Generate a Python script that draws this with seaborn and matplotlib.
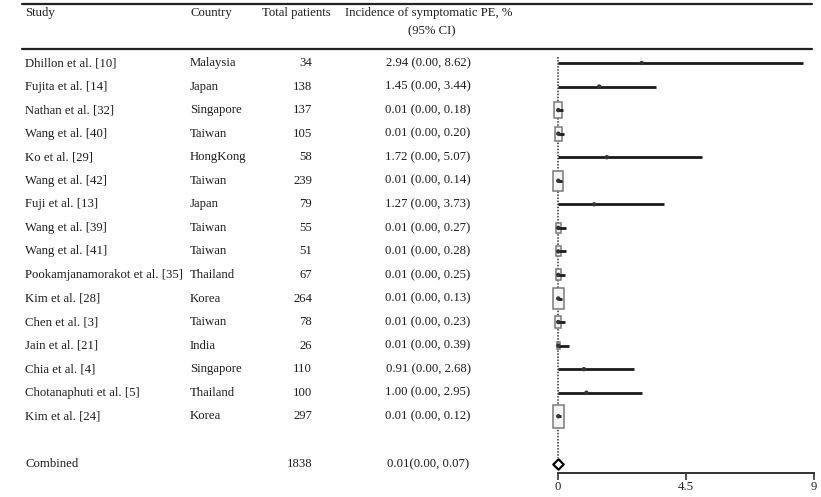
import numpy as np
import pandas as pd
import matplotlib
matplotlib.use("Agg")
import matplotlib.pyplot as plt
from matplotlib.patches import Rectangle
from matplotlib.lines import Line2D
from matplotlib.transforms import blended_transform_factory
import seaborn as sns

# Study-level data
studies = ["Dhillon et al. [10]", "Fujita et al. [14]", "Nathan et al. [32]", "Wang et al. [40]",
           "Ko et al. [29]", "Wang et al. [42]", "Fuji et al. [13]", "Wang et al. [39]",
           "Wang et al. [41]", "Pookamjanamorakot et al. [35]", "Kim et al. [28]", "Chen et al. [3]",
           "Jain et al. [21]", "Chia et al. [4]", "Chotanaphuti et al. [5]", "Kim et al. [24]"]
countries = ["Malaysia", "Japan", "Singapore", "Taiwan", "HongKong", "Taiwan", "Japan", "Taiwan",
             "Taiwan", "Thailand", "Korea", "Taiwan", "India", "Singapore", "Thailand", "Korea"]
patients = [34, 138, 137, 105, 58, 239, 79, 55, 51, 67, 264, 78, 26, 110, 100, 297]
incidence = [2.94, 1.45, 0.01, 0.01, 1.72, 0.01, 1.27, 0.01, 0.01, 0.01, 0.01, 0.01, 0.01, 0.91, 1.00, 0.01]
ci_low = [0.00] * 16
ci_high = [8.62, 3.44, 0.18, 0.20, 5.07, 0.14, 3.73, 0.27, 0.28, 0.25, 0.13, 0.23, 0.39, 2.68, 2.95, 0.12]

combined_label = "Combined"
combined_patients = 1838
combined_est, combined_low, combined_high = 0.01, 0.00, 0.07

headers = ["Study", "Country", "Total patients", "Incidence of symptomatic PE, %", "(95% CI)"]
x_ticks = [0, 4.5, 9]
x_ticklabels = ["0", "4.5", "9"]

df = pd.DataFrame({"study": studies, "country": countries, "n": patients,
                   "est": incidence, "lo": ci_low, "hi": ci_high})
df["row"] = np.arange(len(df))
combined_row = len(df) + 1.03

sns.set_theme(style="white")
serif = ["Liberation Serif", "DejaVu Serif"]
plt.rcParams["font.family"] = serif

W, H = 821, 497
fig = plt.figure(figsize=(W / 100, H / 100), dpi=100)


def fx(px):
    return px / W


def fy(py):
    return 1 - py / H


# Forest-plot axes: x = 0 at 558 px, x = 9 at 814 px; rows spaced 23.55 px from 63 px
px_per_x = (814 - 558) / 9
row0, row_step = 63, 23.55
top_px, bot_px = 55, 473
ax = fig.add_axes([fx(558), fy(bot_px), (814 - 558) / W, (bot_px - top_px) / H])
ax.set_xlim(0, 9)
ax.set_ylim((bot_px - row0) / row_step, (top_px - row0) / row_step)

# Reference line at zero
ax.plot([0, 0], [-0.25, combined_row - 0.25], ls=(0, (1, 1.0)), color="#333333", lw=1.1,
        zorder=1, clip_on=False)

# Boxes sized by inverse-variance weight
ci_width = df["hi"] - df["lo"]
weight = 1 / ci_width ** 2
scale = np.sqrt(weight / weight.max())
for i, r in df.iterrows():
    s = scale[i]
    bw = 11.5 * s / px_per_x
    bh = 23 * s / row_step
    if bw * px_per_x >= 2:
        ax.add_patch(Rectangle((r["est"] - bw / 2, r["row"] - bh / 2), bw, bh,
                               facecolor="#f4f4f4", edgecolor="#7a7a7a", lw=1.1, zorder=2,
                               clip_on=False))

# Confidence intervals
ax.hlines(df["row"], df["lo"], df["hi"], color="#1a1a1a", lw=2.0, zorder=3, clip_on=False)
sns.scatterplot(data=df, x="est", y="row", ax=ax, s=10, color="#333333", marker="o",
                edgecolor="none", zorder=4, legend=False, clip_on=False)

# Pooled estimate
ax.hlines([combined_row], [combined_low], [combined_high], color="#1a1a1a", lw=1.2, zorder=3,
          clip_on=False)
sns.scatterplot(x=[combined_est], y=[combined_row], ax=ax, marker="D", s=28,
                facecolor="white", edgecolor="black", linewidth=1.6, zorder=5, legend=False,
                clip_on=False)

for side in ["top", "right", "left"]:
    ax.spines[side].set_visible(False)
ax.spines["bottom"].set_color("#333333")
ax.spines["bottom"].set_linewidth(1.4)
ax.set_yticks([])
ax.set_xticks(x_ticks)
ax.set_xticklabels(x_ticklabels, fontsize=9.2, family=serif, color="#222222")
ax.tick_params(axis="x", direction="out", length=5, width=1.2, color="#333333", pad=1,
               bottom=True)
ax.set_xlabel("")
ax.set_ylabel("")
ax.patch.set_alpha(0)

# Table text aligned to the forest rows
tr = blended_transform_factory(fig.transFigure, ax.transData)
fs = 9.2
tc = "#1e1e1e"
for _, r in df.iterrows():
    y = r["row"]
    ax.text(fx(25), y, r["study"], transform=tr, ha="left", va="center", fontsize=fs, color=tc)
    ax.text(fx(190), y, r["country"], transform=tr, ha="left", va="center", fontsize=fs, color=tc)
    ax.text(fx(312), y, f"{r['n']}", transform=tr, ha="right", va="center", fontsize=fs, color=tc)
    ax.text(fx(428), y, f"{r['est']:.2f} ({r['lo']:.2f}, {r['hi']:.2f})", transform=tr,
            ha="center", va="center", fontsize=fs, color=tc)

ax.text(fx(25), combined_row, combined_label, transform=tr, ha="left", va="center",
        fontsize=fs, color=tc)
ax.text(fx(312), combined_row, f"{combined_patients}", transform=tr, ha="right", va="center",
        fontsize=fs, color=tc)
ax.text(fx(428), combined_row,
        f"{combined_est:.2f}({combined_low:.2f}, {combined_high:.2f})", transform=tr,
        ha="center", va="center", fontsize=fs, color=tc)

# Header
fig.text(fx(25), fy(13), headers[0], ha="left", va="center", fontsize=fs, color=tc)
fig.text(fx(190), fy(13), headers[1], ha="left", va="center", fontsize=fs, color=tc)
fig.text(fx(296), fy(13), headers[2], ha="center", va="center", fontsize=fs, color=tc)
fig.text(fx(345), fy(13), headers[3], ha="left", va="center", fontsize=fs, color=tc)
fig.text(fx(432), fy(31), headers[4], ha="center", va="center", fontsize=fs, color=tc)

# Table rules
for py in (4, 49):
    fig.add_artist(Line2D([fx(22), fx(812)], [fy(py), fy(py)], color="#222222", lw=1.6))

fig.savefig("out.png", dpi=100)
